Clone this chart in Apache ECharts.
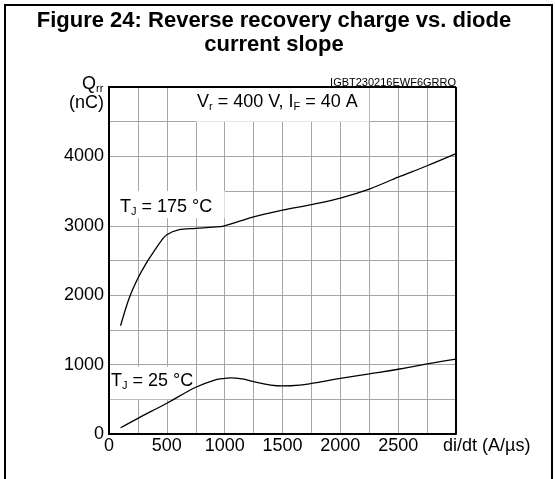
<!DOCTYPE html>
<html>
<head>
    <meta http-equiv="content-type" content="text/html;charset=utf-8" />
    <title>Figure 24</title>
    <script src="https://cdn.jsdelivr.net/npm/echarts@6/dist/echarts.min.js"></script>
</head>
<body style="margin:0;background:#fff;">
    <div id="main" style="width: 555px;height:479px;"></div>
    <script type="text/javascript">
        // di/dt (A/us) and Qrr (nC)
        var x175 = [100, 175, 250, 325, 400, 450, 500, 600, 750, 900, 1000, 1250, 1500, 1750, 2000, 2250, 2500, 2750, 3000];
        var y175 = [1560, 1960, 2245, 2470, 2660, 2780, 2870, 2940, 2963, 2980, 3000, 3130, 3225, 3305, 3400, 3530, 3700, 3865, 4040];
        var x25 = [100, 250, 500, 750, 900, 1000, 1050, 1150, 1250, 1400, 1500, 1650, 1750, 2000, 2250, 2500, 2750, 3000];
        var y25 = [90, 226, 443, 674, 770, 803, 810, 795, 755, 705, 693, 705, 728, 800, 866, 933, 1010, 1078];
        var xTicks = [0, 500, 1000, 1500, 2000, 2500];
        var yTicks = [0, 1000, 2000, 3000, 4000];

        var FONT = 'Liberation Sans';
        var myChart = echarts.init(document.getElementById('main'));

        function pairs(xs, ys) {
            var out = [];
            for (var i = 0; i < xs.length; i++) out.push([xs[i], ys[i]]);
            return out;
        }

        var subRich = {
            n: { fontFamily: FONT, fontSize: 18, color: '#000' },
            s: { fontFamily: FONT, fontSize: 11, color: '#000', verticalAlign: 'bottom', padding: [8, 0, 0, 0] }
        };

        var option = {
            animation: false,
            backgroundColor: '#fff',
            grid: { left: 109, top: 87, right: 99, bottom: 45, show: false },
            xAxis: {
                type: 'value', min: 0, max: 3000, interval: 250,
                axisLine: { lineStyle: { color: '#000', width: 2 } },
                axisTick: { show: false },
                axisLabel: {
                    fontFamily: FONT, fontSize: 18, color: '#000', margin: 3,
                    formatter: function (v) { return xTicks.indexOf(v) >= 0 ? String(v) : ''; }
                },
                splitLine: { lineStyle: { color: '#a6a6a6', width: 1 } }
            },
            yAxis: {
                type: 'value', min: 0, max: 5000, interval: 500,
                axisLine: { lineStyle: { color: '#000', width: 2 } },
                axisTick: { show: false },
                axisLabel: {
                    fontFamily: FONT, fontSize: 18, color: '#000', margin: 5,
                    formatter: function (v) { return yTicks.indexOf(v) >= 0 ? String(v) : ''; }
                },
                splitLine: { lineStyle: { color: '#a6a6a6', width: 1 } }
            },
            graphic: [
                { type: 'line', shape: { x1: 5, y1: 5, x2: 5, y2: 479 }, style: { stroke: '#000', lineWidth: 2 } },
                { type: 'line', shape: { x1: 4, y1: 5, x2: 553, y2: 5 }, style: { stroke: '#000', lineWidth: 2 } },
                { type: 'line', shape: { x1: 552, y1: 5, x2: 552, y2: 479 }, style: { stroke: '#000', lineWidth: 2 } },
                { type: 'text', x: 274, y: 9, style: { text: 'Figure 24: Reverse recovery charge vs. diode\ncurrent slope', font: 'bold 22px "Liberation Sans"', fill: '#000', textAlign: 'center', lineHeight: 24 } },
                // plot frame drawn over the white label boxes
                { type: 'line', shape: { x1: 109, y1: 87, x2: 456, y2: 87 }, style: { stroke: '#000', lineWidth: 2 }, z: 10 },
                { type: 'line', shape: { x1: 456, y1: 87, x2: 456, y2: 434 }, style: { stroke: '#000', lineWidth: 2 }, z: 10 },
                { type: 'line', shape: { x1: 109, y1: 86, x2: 109, y2: 435 }, style: { stroke: '#000', lineWidth: 2 }, z: 10 },
                { type: 'text', x: 456, y: 77, style: { text: 'IGBT230216EWF6GRRQ', font: '11px "Liberation Sans"', fill: '#000', textAlign: 'right' } },
                { type: 'text', x: 82, y: 75, style: { text: '{n|Q}{s|rr}', rich: subRich } },
                { type: 'text', x: 104, y: 94, style: { text: '(nC)', font: '18px "Liberation Sans"', fill: '#000', textAlign: 'right' } },
                { type: 'text', x: 443, y: 437, style: { text: 'di/dt (A/µs)', font: '18px "Liberation Sans"', fill: '#000' } }
            ],
            series: [
                {
                    name: 'TJ 175', type: 'line', smooth: 0.35, showSymbol: false,
                    data: pairs(x175, y175),
                    lineStyle: { color: '#000', width: 1.3 },
                    markArea: {
                        silent: true,
                        itemStyle: { color: '#fff', opacity: 1 },
                        data: [
                            [{ coord: [750, 5000] }, { coord: [2250, 4500] }],
                            [{ coord: [0, 3500] }, { coord: [1000, 3110] }]
                        ]
                    }
                },
                {
                    name: 'TJ 25', type: 'line', smooth: 0.4, showSymbol: false,
                    data: pairs(x25, y25),
                    lineStyle: { color: '#000', width: 1.3 },
                    markArea: {
                        silent: true,
                        itemStyle: { color: '#fff', opacity: 1 },
                        data: [
                            [{ coord: [0, 970] }, { coord: [750, 500] }]
                        ]
                    }
                }
            ]
        };
        option.graphic.push(
            { type: 'text', x: 197, y: 93, z: 20, style: { text: '{n|V}{s|r}{n| = 400 V, I}{s|F}{n| = 40 A}', rich: subRich } },
            { type: 'text', x: 120, y: 198, z: 20, style: { text: '{n|T}{s|J}{n| = 175 °C}', rich: subRich } },
            { type: 'text', x: 111, y: 372, z: 20, style: { text: '{n|T}{s|J}{n| = 25 °C}', rich: subRich } }
        );

        myChart.setOption(option);
    </script>
</body>
</html>
